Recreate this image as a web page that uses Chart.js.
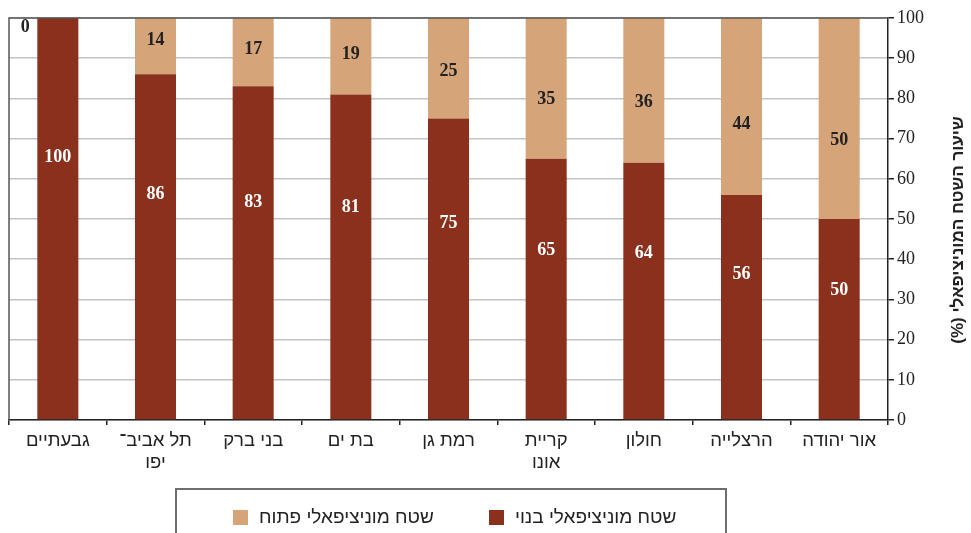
<!DOCTYPE html>
<html>
<head>
<meta charset="utf-8">
<script src="https://cdn.jsdelivr.net/npm/chart.js@4/dist/chart.umd.min.js"></script>
<style>
body{margin:0;background:#fff;}
#wrap{position:relative;width:971px;height:533px;overflow:hidden;}
#legend{position:absolute;left:175px;top:488px;width:552px;height:70px;border:2px solid #6e6e6e;box-sizing:border-box;
font-family:"Liberation Sans",Arial,sans-serif;font-size:19px;color:#222;}
.item{position:absolute;top:16px;display:flex;align-items:center;height:22px;}
.sw{width:15px;height:15px;margin-right:11px;}
</style>
</head>
<body>
<div id="wrap">
<canvas id="grafik" width="971" height="533"></canvas>
<div id="legend"></div>
</div>
<script>
// =========================
// DATA
// =========================

let yishuvim = ["גבעתיים",["תל אביב־","יפו"],"בני ברק","בת ים","רמת גן",["קריית","אונו"],"חולון","הרצלייה","אור יהודה"];

let shetachBanui = [100,86,83,81,75,65,64,56,50];
let shetachPatuach = [0,14,17,19,25,35,36,44,50];

let labelBanui = "שטח מוניציפאלי בנוי";
let labelPatuach = "שטח מוניציפאלי פתוח";

let yTicks = [0,10,20,30,40,50,60,70,80,90,100];
let yTitle = "שיעור השטח המוניציפאלי (%)";

let warnaBanui = "#8a301c";
let warnaPatuach = "#d5a479";


// =========================
// PLUGINS
// =========================

// bingkai kiri & atas
let bingkai = {
id:"bingkai",
afterDraw:function(chart){
let a = chart.chartArea, ctx = chart.ctx;
ctx.save();
ctx.strokeStyle="#555";
ctx.lineWidth=1.5;
ctx.beginPath();
ctx.moveTo(a.left,a.bottom);
ctx.lineTo(a.left,a.top);
ctx.lineTo(a.right,a.top);
ctx.stroke();
ctx.restore();
}
};

// angka di dalam batang
let labelAngka = {
id:"labelAngka",
afterDatasetsDraw:function(chart){
let ctx = chart.ctx;
ctx.save();
ctx.font='bold 18px "Liberation Serif", "Times New Roman", serif';
ctx.textAlign="center";
ctx.textBaseline="middle";

chart.getDatasetMeta(0).data.forEach(function(bar,i){
let h = bar.base - bar.y;
ctx.fillStyle="#fff";
ctx.fillText(shetachBanui[i], bar.x, bar.base - (0.66*h - 3));
});

chart.getDatasetMeta(1).data.forEach(function(bar,i){
let h = bar.base - bar.y;
ctx.fillStyle="#222";
if(shetachPatuach[i]===0){
ctx.fillText(shetachPatuach[i], bar.x - bar.width/2 - 12, chart.chartArea.top + 9);
}else{
ctx.fillText(shetachPatuach[i], bar.x, bar.y + 0.69*h - 16);
}
});
ctx.restore();
}
};

// judul sumbu kanan (diputar)
let judulY = {
id:"judulY",
afterDraw:function(chart){
let ctx = chart.ctx;
ctx.save();
ctx.translate(958,230);
ctx.rotate(-Math.PI/2);
ctx.direction="rtl";
ctx.textAlign="center";
ctx.textBaseline="middle";
ctx.font='bold 17px "Liberation Sans", Arial, sans-serif';
ctx.fillStyle="#222";
ctx.fillText(yTitle,0,0);
ctx.restore();
}
};


// =========================
// GRAFIK
// =========================

let ctx1 = document.getElementById("grafik");

let chart = new Chart(ctx1,{
type:"bar",
data:{
labels:yishuvim,
datasets:[
{label:labelBanui,data:shetachBanui,backgroundColor:warnaBanui,barPercentage:0.42,categoryPercentage:1},
{label:labelPatuach,data:shetachPatuach,backgroundColor:warnaPatuach,barPercentage:0.42,categoryPercentage:1}
]
},
options:{
responsive:false,
animation:false,
layout:{padding:{left:9,top:18,right:0,bottom:53}},
plugins:{legend:{display:false},tooltip:{enabled:false}},
scales:{
x:{
stacked:true,
offset:true,
grid:{offset:true,drawOnChartArea:false,tickLength:5,tickColor:"#222",lineWidth:1.5},
border:{display:true,color:"#222",width:1.5},
ticks:{autoSkip:false,maxRotation:0,padding:5,color:"#222",
font:{family:'"Liberation Sans", Arial, sans-serif',size:18.5,lineHeight:1.2}},
afterFit:function(s){s.height=60;}
},
y:{
stacked:true,
position:"right",
min:0,max:100,
afterBuildTicks:function(s){s.ticks=yTicks.map(function(v){return {value:v};});},
grid:{color:"#c4c4c4",lineWidth:1.5,tickLength:6,tickColor:"#222"},
border:{display:true,color:"#222",width:1.5},
ticks:{padding:3,color:"#222",font:{family:'"Liberation Serif", "Times New Roman", serif',size:18}},
afterFit:function(s){s.width=83;}
}
}
},
plugins:[bingkai,labelAngka,judulY]
});


// =========================
// LEGENDA
// =========================

let legend = document.getElementById("legend");
let posisi = [56,312];
[1,0].forEach(function(idx,k){
let ds = chart.data.datasets[idx];
legend.innerHTML += '<div class="item" style="left:'+posisi[k]+'px"><div class="sw" style="background:'+ds.backgroundColor+'"></div><span dir="rtl">'+ds.label+'</span></div>';
});
</script>
</body>
</html>
